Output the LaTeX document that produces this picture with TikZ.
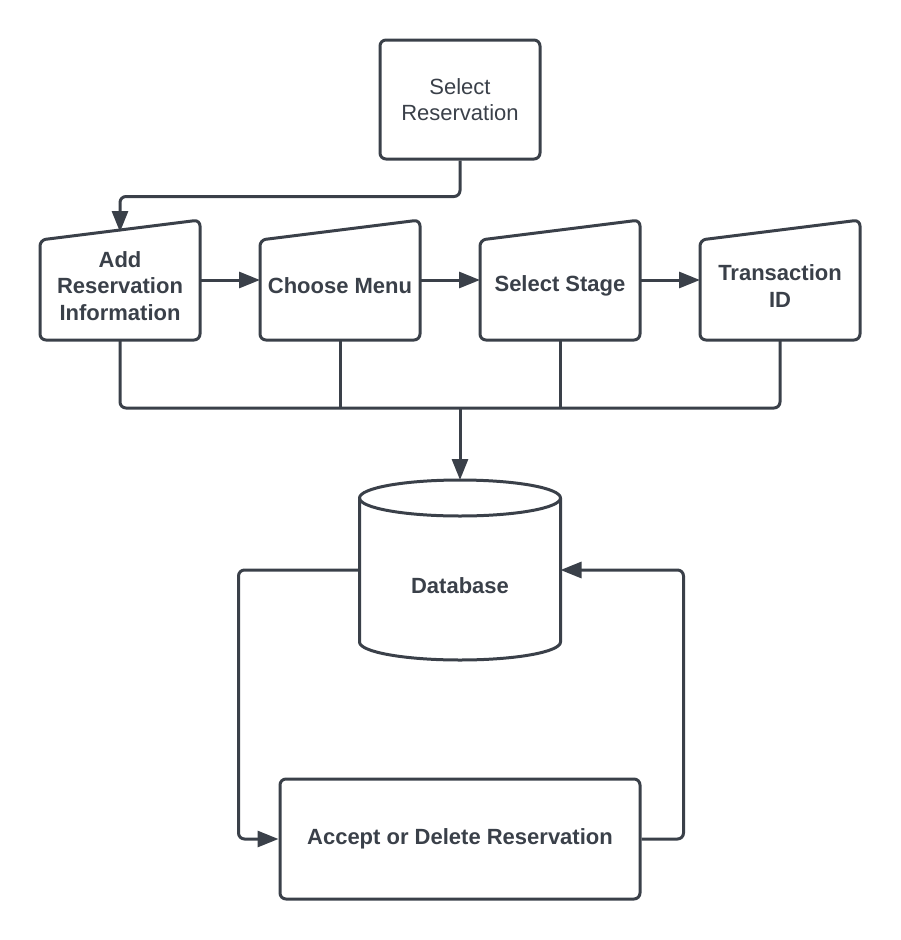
\documentclass[tikz,border=0pt]{standalone}
\usepackage{fontspec}
\setmainfont{Liberation Sans}
\usetikzlibrary{arrows.meta,positioning}
\definecolor{lucidgray}{HTML}{3A4049}

\begin{document}
\begin{tikzpicture}[x=1pt,y=-1pt,
  line width=3pt, color=lucidgray, line join=round,
  txt/.style={font=\fontsize{22}{26.5}\selectfont, align=center},
  boldtxt/.style={font=\fontsize{22}{26.5}\selectfont\bfseries, align=center},
  procbox/.style={draw, rounded corners=6pt, txt, inner sep=0pt},
  inbox/.style={boldtxt, minimum width=160pt, minimum height=108pt, inner sep=0pt, outer sep=0pt},
  flow/.style={-{Triangle[length=21pt,width=16pt]}, rounded corners=6pt}]

\useasboundingbox (0,0) rectangle (900,940);

%Start
\node[procbox, minimum width=160pt, minimum height=119pt] (sel) at (460,99.5) {Select\\[-0.5pt]Reservation};

%Inputs
\node[inbox] (add) at (120,286) {Add\\Reservation\\Information};
\node[inbox, right=60pt of add] (menu) {Choose Menu};
\node[inbox, right=60pt of menu] (stage) {Select Stage};
\node[inbox, right=60pt of stage] (tid) {Transaction\\ID};
\foreach \n in {add,menu,stage,tid}
  \draw[rounded corners=6pt] (\n.south west) -- ([yshift=-8pt]\n.north west)
    -- ([yshift=12pt]\n.north east) -- (\n.south east) -- cycle;

%Database
\node[minimum width=201pt, minimum height=180pt, inner sep=0pt, outer sep=0pt] (db) at (460,570) {};
\draw (460,498) ellipse [x radius=100.5, y radius=18];
\draw (359.5,498) -- (359.5,642) arc [start angle=180, end angle=0, x radius=100.5, y radius=18] -- (560.5,498);
\node[boldtxt] (dbtext) at (460,586) {Database};

%Review
\node[procbox, boldtxt, minimum width=360pt, minimum height=120pt] (acc) at (460,839) {Accept or Delete Reservation};

%Flow
\draw[flow] (sel.south) -- ++(0,36) -| (add.north);
\draw[flow] ([yshift=6pt]add.east) -- ([yshift=6pt]menu.west);
\draw[flow] ([yshift=6pt]menu.east) -- ([yshift=6pt]stage.west);
\draw[flow] ([yshift=6pt]stage.east) -- ([yshift=6pt]tid.west);

%Bus
\coordinate (bus) at (460,408);
\draw[rounded corners=6pt] (add.south) |- (tid.south |- bus) -- (tid.south);
\draw (menu.south) -- (menu.south |- bus);
\draw (stage.south) -- (stage.south |- bus);
\draw[flow] (bus) -- (db.north);

%Loop
\draw[flow] (db.west) -- ++(-121,0) |- (acc.west);
\draw[flow] (acc.east) -- ++(42,0) |- (db.east);

\end{tikzpicture}
\end{document}
